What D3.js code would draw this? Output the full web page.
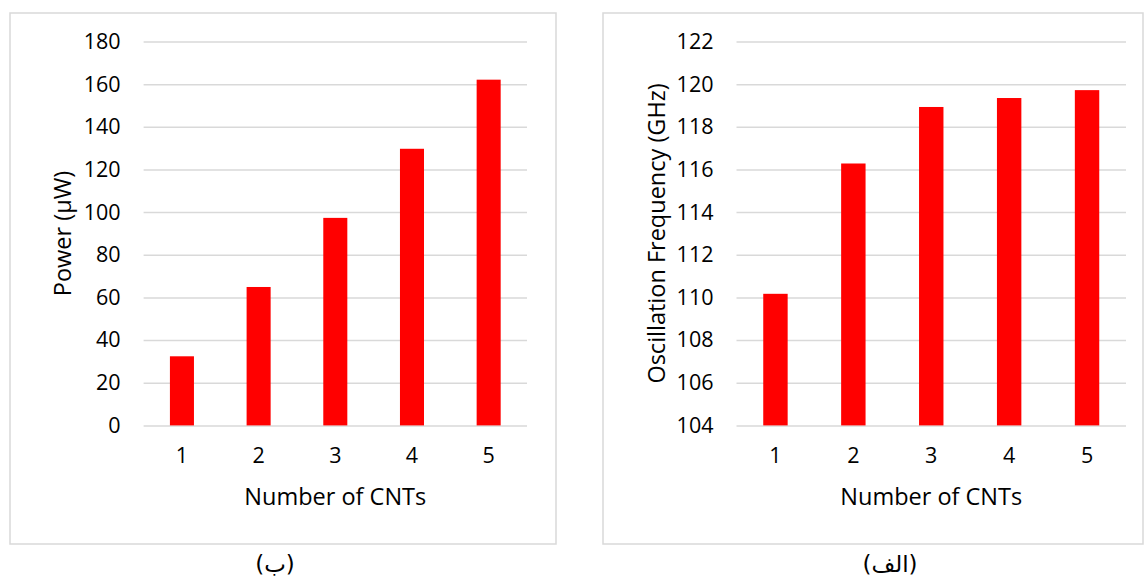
<!DOCTYPE html>
<html>
<head>
<meta charset="utf-8">
<script src="https://cdn.jsdelivr.net/npm/d3@7"></script>
<style>
  html, body { margin: 0; padding: 0; background: #fff; }
  svg { display: block; }
  text { font-family: "Open Sans", "DejaVu Sans", sans-serif; fill: #000; }
</style>
</head>
<body>
<svg id="chart" width="1144" height="576"></svg>
<script>
// Number of CNTs on both panels
const categories = ["1", "2", "3", "4", "5"];

// Panel (ب): power consumption in µW
const powerValues = [32.4, 64.9, 97.3, 129.7, 162.1];
const powerTicks = [0, 20, 40, 60, 80, 100, 120, 140, 160, 180];

// Panel (الف): oscillation frequency in GHz
const freqValues = [110.17, 116.28, 118.93, 119.35, 119.72];
const freqTicks = [104, 106, 108, 110, 112, 114, 116, 118, 120, 122];

const svg = d3.select("#chart");

const panels = [
  {
    frame: { x0: 10, x1: 556, y0: 13, y1: 544 },
    plot: { x0: 143.6, x1: 527, y0: 41.5, y1: 425.4 },
    values: powerValues,
    ticks: powerTicks,
    yTitle: "Power (\u03bcW)",
    yTitleX: 62,
    caption: "(\u0628)",
    captionX: 275
  },
  {
    frame: { x0: 603, x1: 1143, y0: 13, y1: 544 },
    plot: { x0: 736.5, x1: 1126, y0: 41.5, y1: 425.4 },
    values: freqValues,
    ticks: freqTicks,
    yTitle: "Oscillation Frequency (GHz)",
    yTitleX: 656,
    caption: "(\u0627\u0644\u0641)",
    captionX: 890
  }
];

const tickFont = 21.5;
const titleFont = 23.5;

panels.forEach(p => {
  const g = svg.append("g");

  // chart area frame
  g.append("rect")
    .attr("x", p.frame.x0).attr("y", p.frame.y0)
    .attr("width", p.frame.x1 - p.frame.x0)
    .attr("height", p.frame.y1 - p.frame.y0)
    .attr("fill", "#fff")
    .attr("stroke", "#d9d9d9")
    .attr("stroke-width", 1.5);

  const x = d3.scaleBand()
    .domain(categories)
    .range([p.plot.x0, p.plot.x1])
    .paddingInner(0)
    .paddingOuter(0);

  const y = d3.scaleLinear()
    .domain([p.ticks[0], p.ticks[p.ticks.length - 1]])
    .range([p.plot.y1, p.plot.y0]);

  // horizontal gridlines + tick labels
  const yAxis = d3.axisLeft(y)
    .tickValues(p.ticks)
    .tickSize(-(p.plot.x1 - p.plot.x0))
    .tickPadding(23)
    .tickFormat(d3.format("d"));

  const ya = g.append("g")
    .attr("transform", `translate(${p.plot.x0},0)`)
    .call(yAxis);
  ya.select(".domain").remove();
  ya.selectAll(".tick line")
    .attr("stroke", "#d9d9d9")
    .attr("stroke-width", 1.5);
  ya.selectAll(".tick text")
    .attr("font-size", tickFont)
    .attr("fill", "#000");

  // bars: width ≈ band / 3.19 (gap width 219%)
  const barW = x.bandwidth() / 3.19;
  g.append("g").selectAll("rect")
    .data(p.values)
    .join("rect")
    .attr("x", (d, i) => x(categories[i]) + (x.bandwidth() - barW) / 2)
    .attr("width", barW)
    .attr("y", d => y(d))
    .attr("height", d => y(p.ticks[0]) - y(d))
    .attr("fill", "#ff0000");

  // category labels
  const xAxis = d3.axisBottom(x).tickSize(0).tickPadding(22);
  const xa = g.append("g")
    .attr("transform", `translate(0,${p.plot.y1})`)
    .call(xAxis);
  xa.select(".domain").remove();
  xa.selectAll(".tick text")
    .attr("font-size", tickFont)
    .attr("fill", "#000");

  // axis titles
  g.append("text")
    .attr("x", (p.plot.x0 + p.plot.x1) / 2)
    .attr("y", 505)
    .attr("text-anchor", "middle")
    .attr("font-size", titleFont)
    .text("Number of CNTs");

  g.append("text")
    .attr("transform", `translate(${p.yTitleX + 8.5},${(p.plot.y0 + p.plot.y1) / 2}) rotate(-90)`)
    .attr("text-anchor", "middle")
    .attr("font-size", titleFont)
    .text(p.yTitle);

  // panel caption
  g.append("text")
    .attr("x", p.captionX)
    .attr("y", 572)
    .attr("text-anchor", "middle")
    .attr("direction", "rtl")
    .attr("font-size", 23)
    .style("font-family", "\"DejaVu Sans\", sans-serif")
    .text(p.caption);
});
</script>
</body>
</html>
